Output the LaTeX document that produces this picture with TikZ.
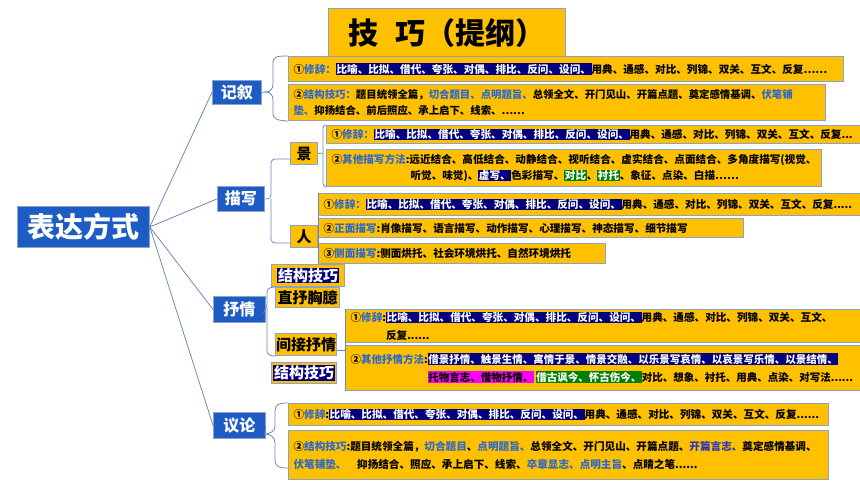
\documentclass[tikz,border=0pt]{standalone}
\usepackage{fontspec}
\setmainfont{Noto Sans CJK SC}
\definecolor{yel}{HTML}{FFC000}
\definecolor{bordr}{HTML}{8EA2C6}
\definecolor{nodeblue}{HTML}{1C5CC4}
\definecolor{navyhl}{HTML}{000080}
\definecolor{lbl}{HTML}{2E68C8}
\definecolor{darkbl}{HTML}{2A35C0}
\definecolor{grnhl}{HTML}{008000}
\definecolor{maghl}{HTML}{FF00FF}
\definecolor{connc}{HTML}{6F88BC}
\newcommand\bl[1]{\textcolor{lbl}{#1}}
\newcommand\hlnavy[1]{{\setlength\fboxsep{0.6pt}\colorbox{navyhl}{\textcolor{white}{#1}}}}
\newcommand\hlgreen[1]{{\setlength\fboxsep{0.6pt}\colorbox{grnhl}{\textcolor{white}{#1}}}}
\newcommand\hlmag[1]{{\setlength\fboxsep{0.6pt}\colorbox{maghl}{\textcolor{black}{#1}}}}
\newcommand\xcs{比喻、比拟、借代、夸张、对偶、排比、反问、设问、}
\begin{document}
\begin{tikzpicture}[x=1pt,y=-1pt,
  ybox/.style={fill=yel, draw=bordr, line width=1.1pt, anchor=north west,
    inner xsep=5pt, inner ysep=0pt, align=left,
    font=\bfseries\fontsize{10.6}{17.5}\selectfont},
  bluebox/.style={fill=nodeblue, draw=bordr, line width=0.8pt, text=white,
    inner sep=0pt, anchor=north west, font=\bfseries\fontsize{16}{18}\selectfont},
  smallbox/.style={fill=yel, draw=bordr, line width=1.1pt, anchor=north west,
    inner sep=0pt, font=\bfseries\fontsize{15}{17}\selectfont},
  conn/.style={draw=connc, line width=0.8pt},
]
\useasboundingbox (0,0) rectangle (860,484);

% title
\node[fill=yel, draw=bordr, line width=1pt, anchor=north west, minimum width=237pt,
  minimum height=50pt, inner sep=0pt, font=\bfseries\fontsize{30}{32}\selectfont]
  (title) at (328,8) {技\hspace{0.55em}巧（提纲）};

% root
\node[bluebox, minimum width=132pt, minimum height=41pt,
  font=\bfseries\fontsize{28}{30}\selectfont] (root) at (17,206) {表达方式};

% level 1
\node[bluebox, minimum width=49pt, minimum height=24pt] (jx) at (212,80) {记叙};
\node[bluebox, minimum width=47pt, minimum height=25pt] (ms) at (217,186) {描写};
\node[bluebox, minimum width=52pt, minimum height=26pt] (sq) at (213,296) {抒情};
\node[bluebox, minimum width=52pt, minimum height=26pt] (yl) at (213,412) {议论};

\draw[conn] (root.east) -- (jx.west);
\draw[conn] (root.east) -- (ms.west);
\draw[conn] (root.east) -- (sq.west);
\draw[conn] (root.east) -- (yl.west);

% 记叙 boxes
\node[ybox, text width=545pt, minimum height=25pt] (A1) at (288,56)
  {①\bl{修辞：}\hlnavy{\xcs}用典、通感、对比、列锦、双关、互文、反复……};
\node[ybox, text width=527pt, minimum height=36pt, font=\bfseries\fontsize{10.4}{16.5}\selectfont] (A2) at (288,84)
  {②\bl{结构技巧：}题目统领全篇，\bl{切合题目、点明题旨、}总领全文、开门见山、开篇点题、奠定感情基调、\bl{伏笔铺}\\
   \bl{垫、}抑扬结合、前后照应、承上启下、线索、……};
\draw[conn] (jx.east) -- (266,92);
\draw[conn] (A1.north west) .. controls (275,56) and (273,57) .. (273,64) -- (273,84)
  .. controls (273,89) and (270,92) .. (266,92)
  .. controls (270,92) and (273,95) .. (273,100) -- (273,112)
  .. controls (273,119) and (275,120) .. (A2.south west);

% 描写: 景 and 人
\node[smallbox, minimum width=27pt, minimum height=22pt] (jing) at (290,142) {景};
\node[smallbox, minimum width=27pt, minimum height=22pt] (ren) at (290,225) {人};
\draw[conn, rounded corners=4pt] (ms.east) -- (271,199) -- (271,159) -- (jing.south west |- 0,159);
\draw[conn, rounded corners=4pt] (271,199) -- (271,243) -- (ren.south west |- 0,243);

\node[ybox, text width=530pt, minimum height=18pt] (B1) at (326,125)
  {①\bl{修辞：}\hlnavy{\xcs}用典、通感、对比、列锦、双关、互文、反复...};
\node[ybox, text width=485pt, minimum height=37pt, font=\bfseries\fontsize{10.6}{16}\selectfont] (B2) at (326,149)
  {②\bl{其他描写方法}:远近结合、高低结合、动静结合、视听结合、虚实结合、点面结合、多角度描写(视觉、\\
   \hspace*{79pt}听觉、味觉)、\hlnavy{虚写、}色彩描写、\hlgreen{对比}、\hlgreen{衬托}、象征、点染、白描……};
\draw[conn] (jing.east) -- (323,153);
\draw[conn, rounded corners=3pt] (B1.north west) -- (323,125) -- (323,186) -- (B2.south west);

\node[ybox, text width=540pt, minimum height=22pt] (C1) at (318,193)
  {①\bl{修辞：}\hlnavy{\xcs}用典、通感、对比、列锦、双关、互文、反复.....};
\node[ybox, text width=415pt, minimum height=19pt] (C2) at (318,218)
  {②\bl{正面描写}:肖像描写、语言描写、动作描写、心理描写、神态描写、细节描写};
\node[ybox, text width=277pt, minimum height=20pt] (C3) at (318,243)
  {③\bl{侧面描写}:侧面烘托、社会环境烘托、自然环境烘托};
\draw[conn] (ren.east) -- (C2.west |- ren.east);
\draw[conn] (C1.north west) -- (C3.south west);

% 抒情
\node[smallbox, minimum width=73pt, minimum height=22pt] (jg1) at (271,264) {\hlnavy{结构技巧}};
\node[smallbox, minimum width=64pt, minimum height=20pt] (zs) at (275,287) {直抒胸臆};
\node[smallbox, minimum width=61pt, minimum height=22pt] (jj) at (275,333) {间接抒情};
\node[smallbox, minimum width=65pt, minimum height=21pt] (jg2) at (271,362) {\hlnavy{结构技巧}};
\draw[conn, rounded corners=4pt] (sq.east) -- (267,308) -- (267,288) -- (zs.north west);
\draw[conn, rounded corners=4pt] (267,308) -- (267,355) -- (jj.south west);

\node[ybox, text width=505pt, minimum height=33pt, font=\bfseries\fontsize{10.6}{18}\selectfont] (D1) at (345,309)
  {①\bl{修辞}:\hlnavy{\xcs}用典、通感、对比、列锦、双关、互文、\\
   \phantom{①修辞:}反复......};
\node[ybox, text width=505pt, minimum height=45pt, font=\bfseries\fontsize{10.5}{18}\selectfont] (D2) at (345,345)
  {②\bl{其他抒情方法}:\hlnavy{借景抒情、触景生情、寓情于景、情景交融、以乐景写哀情、以哀景写乐情、以景结情、}\\
   \phantom{②其他抒情方法:}\hlmag{托物言志、借物抒情、}\,\hlgreen{借古讽今、怀古伤今、}对比、想象、衬托、用典、点染、对写法......};
\draw[conn] (jj.east |- 0,350) -- (D2.west |- 0,350);
\draw[conn] (D1.north west) -- (D2.south west);

% 议论
\node[ybox, text width=530pt, minimum height=22pt] (E1) at (288,403)
  {①\bl{修辞}:\hlnavy{\xcs}用典、通感、对比、列锦、双关、互文、反复......};
\node[ybox, text width=530pt, minimum height=49pt, font=\bfseries\fontsize{10.6}{18}\selectfont] (E2) at (288,430)
  {②\bl{结构技巧}:题目统领全篇，\bl{切合题目}、\bl{点明题旨、}总领全文、开门见山、开篇点题、\textcolor{darkbl}{开篇言志、}奠定感情基调、\\
   \bl{伏笔铺垫、}\quad 抑扬结合、照应、承上启下、线索、\bl{卒章显志、点明主旨}、点睛之笔......};
\draw[conn] (yl.east) -- (265,434);
\draw[conn] (E1.north west) .. controls (277,403) and (275,405) .. (275,413) -- (275,426)
  .. controls (275,431) and (270,434) .. (265,434)
  .. controls (270,434) and (275,437) .. (275,443) -- (275,458)
  .. controls (275,466) and (277,468) .. (E2.west |- 0,468);
\end{tikzpicture}
\end{document}
